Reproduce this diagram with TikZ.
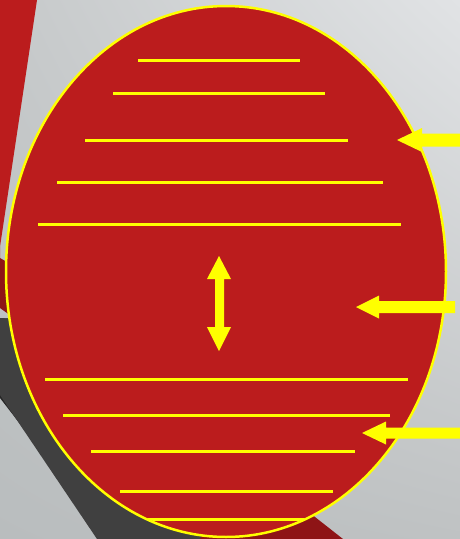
\documentclass[tikz,border=0pt]{standalone}
\usetikzlibrary{shadings}
\definecolor{Red}{HTML}{BB1C1D}
\definecolor{DRed}{HTML}{8E1416}
\definecolor{Yel}{HTML}{FFFF00}
\definecolor{DGray}{HTML}{404040}
\definecolor{DDGray}{HTML}{262626}
\definecolor{BgUL}{HTML}{C6C9CA}
\definecolor{BgUR}{HTML}{E1E3E5}
\definecolor{BgLL}{HTML}{B9BDBE}
\definecolor{BgLR}{HTML}{BFC2C3}
\begin{document}
\begin{tikzpicture}[x=1pt,y=-1pt,
  yline/.style={draw=Yel,line width=3pt}]
\useasboundingbox (0,0) rectangle (460,539);
% background
\shade[upper left=BgUL,upper right=BgUR,lower left=BgLL,lower right=BgLR]
  (0,0) rectangle (460,539);
% red band top-left
\fill[Red] (0,0) -- (37,0) -- (-2,260) -- (0,260) -- cycle;
% dark red sliver
\fill[DRed] (0,258) -- (14,266) -- (14,318) -- (0,308) -- cycle;
% dark gray band with shadow
\fill[DDGray] (0,318) -- (200,330) -- (260,539) -- (109,539) -- (0,398) -- cycle;
\fill[DGray] (0,318) -- (200,330) -- (250,539) -- (97,539) -- (0,395) -- cycle;
% dark red band bottom right
\fill[DRed] (240,460) -- (315,517) -- (343,539) -- (200,539) -- cycle;
% ellipse
\filldraw[fill=Red,draw=Yel,line width=2.5pt] (226,271.5) ellipse [x radius=220, y radius=265.5];
% horizontal lines
\begin{scope}
\clip (226,271.5) ellipse [x radius=219, y radius=264.5];
\draw[yline] (138,60) -- (300,60);
\draw[yline] (113,93.5) -- (325,93.5);
\draw[yline] (85,140) -- (348,140);
\draw[yline] (57,182) -- (383,182);
\draw[yline] (38,224) -- (401,224);
\draw[yline] (45,379.5) -- (408,379.5);
\draw[yline] (63,415) -- (390,415);
\draw[yline] (91,451.5) -- (355,451.5);
\draw[yline] (120,491) -- (333,491);
\draw[yline] (140,519.5) -- (320,519.5);
\end{scope}
% double arrow
\fill[Yel] (219,256) -- (231,279) -- (224,279) -- (224,327) -- (231,327) -- (219,351)
  -- (207,327) -- (215,327) -- (215,279) -- (207,279) -- cycle;
% left-pointing arrows
\coordinate (t1) at (397,140);
\coordinate (t2) at (356,307);
\coordinate (t3) at (362,433);
\fill[Yel] (t1) -- ++(25,-12) -- ++(0,5.5) -- (462,133.5) -- (462,146.5) -- (422,146.5) -- (422,152) -- cycle;
\fill[Yel] (t2) -- ++(23,-11.5) -- ++(0,5.5) -- (455,301) -- (455,313) -- (379,313) -- (379,318.5) -- cycle;
\fill[Yel] (t3) -- ++(24,-11.5) -- ++(0,6) -- (462,427.5) -- (462,438.5) -- (386,438.5) -- (386,444.5) -- cycle;
\end{tikzpicture}
\end{document}
